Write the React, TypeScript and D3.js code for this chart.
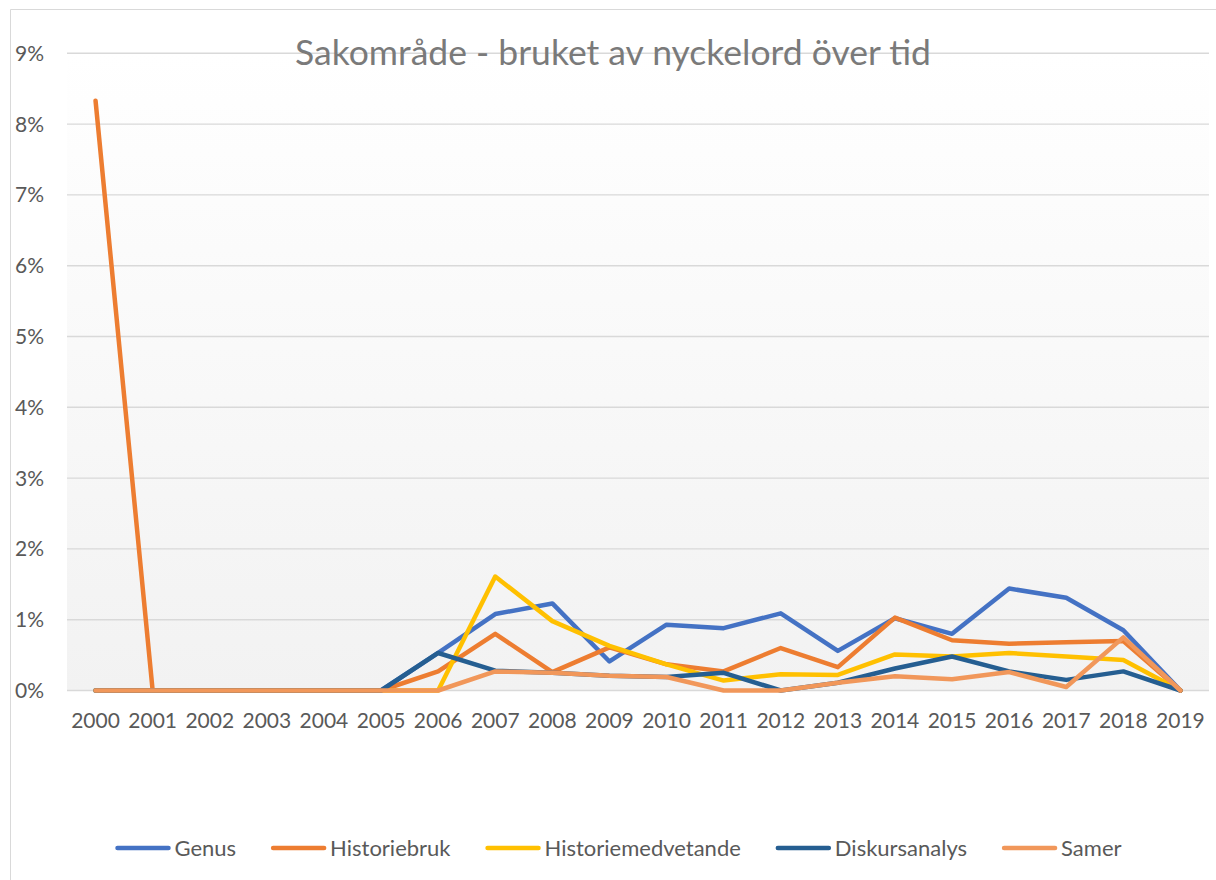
import { useEffect, useRef } from "react";
import * as d3 from "d3";

const years = [
  "2000", "2001", "2002", "2003", "2004", "2005", "2006", "2007", "2008", "2009",
  "2010", "2011", "2012", "2013", "2014", "2015", "2016", "2017", "2018", "2019",
];

// values in percent
const genus = [0, 0, 0, 0, 0, 0, 0.53, 1.08, 1.23, 0.41, 0.93, 0.88, 1.09, 0.56, 1.02, 0.8, 1.44, 1.31, 0.85, 0];
const historiebruk = [8.33, 0, 0, 0, 0, 0, 0.27, 0.8, 0.26, 0.61, 0.37, 0.27, 0.6, 0.33, 1.03, 0.71, 0.66, 0.68, 0.7, 0];
const historiemedvetande = [0, 0, 0, 0, 0, 0, 0, 1.61, 0.98, 0.63, 0.37, 0.14, 0.23, 0.22, 0.51, 0.48, 0.53, 0.48, 0.43, 0];
const diskursanalys = [0, 0, 0, 0, 0, 0, 0.53, 0.28, 0.25, 0.21, 0.19, 0.25, 0, 0.11, 0.31, 0.48, 0.27, 0.15, 0.27, 0];
const samer = [0, 0, 0, 0, 0, 0, 0, 0.27, 0.25, 0.21, 0.19, 0, 0, 0.11, 0.2, 0.16, 0.26, 0.05, 0.75, 0];

const seriesNames = ["Genus", "Historiebruk", "Historiemedvetande", "Diskursanalys", "Samer"];
const seriesValues = [genus, historiebruk, historiemedvetande, diskursanalys, samer];
const colors = ["#4472C4", "#ED7D31", "#FFC000", "#255E91", "#F1975A"];

const yTicks = [0, 1, 2, 3, 4, 5, 6, 7, 8, 9];
const title = "Sakområde - bruket av nyckelord över tid";

const width = 1216;
const height = 880;
const plotLeft = 67;
const plotRight = 1209;
const plotTop = 53.3;
const plotBottom = 690.5;
const font = "Lato, 'Open Sans', sans-serif";

const App = () => {
  const svgRef = useRef<SVGSVGElement>(null);

  useEffect(() => {
    if (!svgRef.current) return;
    const svg = d3.select(svgRef.current);

    const step = (plotRight - plotLeft) / years.length;
    const x = d3
      .scalePoint<string>()
      .domain(years)
      .range([plotLeft + step / 2, plotRight - step / 2]);
    const y = d3.scaleLinear().domain([0, 9]).range([plotBottom, plotTop]);

    const defs = svg.append("defs");
    const grad = defs
      .append("linearGradient")
      .attr("id", "plotBg")
      .attr("x1", 0)
      .attr("y1", 0)
      .attr("x2", 0)
      .attr("y2", 1);
    grad.append("stop").attr("offset", "0%").attr("stop-color", "#ffffff");
    grad.append("stop").attr("offset", "100%").attr("stop-color", "#f2f2f2");

    // chart border (left + top visible)
    svg.append("path")
      .attr("d", `M10.5,${height + 5}V9.5H${width + 5}`)
      .attr("fill", "none")
      .attr("stroke", "#d9d9d9")
      .attr("stroke-width", 1);

    svg.append("rect")
      .attr("x", plotLeft)
      .attr("y", plotTop)
      .attr("width", plotRight - plotLeft)
      .attr("height", plotBottom - plotTop)
      .attr("fill", "url(#plotBg)");

    // gridlines
    svg.append("g")
      .selectAll("line")
      .data(yTicks)
      .join("line")
      .attr("x1", plotLeft)
      .attr("x2", plotRight)
      .attr("y1", (d) => y(d))
      .attr("y2", (d) => y(d))
      .attr("stroke", "#d9d9d9")
      .attr("stroke-width", 1.4);

    // title
    svg.append("text")
      .attr("x", 613)
      .attr("y", 65)
      .attr("text-anchor", "middle")
      .attr("font-family", font)
      .attr("font-size", 35.5)
      .attr("fill", "#7a7a7a")
      .text(title);

    // y labels
    svg.append("g")
      .selectAll("text")
      .data(yTicks)
      .join("text")
      .attr("x", 44)
      .attr("y", (d) => y(d))
      .attr("dy", "0.36em")
      .attr("text-anchor", "end")
      .attr("font-family", font)
      .attr("font-size", 21)
      .attr("fill", "#595959")
      .text((d) => `${d}%`);

    // x labels
    svg.append("g")
      .selectAll("text")
      .data(years)
      .join("text")
      .attr("x", (d) => x(d) ?? 0)
      .attr("y", 728)
      .attr("text-anchor", "middle")
      .attr("font-family", font)
      .attr("font-size", 21)
      .attr("fill", "#595959")
      .text((d) => d);

    const line = d3
      .line<number>()
      .x((_, i) => x(years[i]) ?? 0)
      .y((d) => y(d));

    svg.append("g")
      .selectAll("path")
      .data(seriesValues)
      .join("path")
      .attr("d", (d) => line(d))
      .attr("fill", "none")
      .attr("stroke", (_, i) => colors[i])
      .attr("stroke-width", 4.5)
      .attr("stroke-linejoin", "round")
      .attr("stroke-linecap", "round");

    // legend
    const legend = svg.append("g");
    const lineLen = 55;
    const textGap = 4;
    const itemGap = 35;
    const items = legend
      .selectAll("g")
      .data(seriesNames)
      .join("g");
    items.append("line")
      .attr("x1", 2)
      .attr("x2", lineLen - 2)
      .attr("y1", 0)
      .attr("y2", 0)
      .attr("stroke", (_, i) => colors[i])
      .attr("stroke-width", 4.5)
      .attr("stroke-linecap", "round");
    items.append("text")
      .attr("x", lineLen + textGap)
      .attr("dy", "0.36em")
      .attr("font-family", font)
      .attr("font-size", 22)
      .attr("fill", "#595959")
      .text((d) => d);

    const widths: number[] = [];
    items.each(function () {
      const t = d3.select(this).select("text").node() as SVGTextElement;
      widths.push(lineLen + textGap + t.getComputedTextLength());
    });
    const total = d3.sum(widths) + itemGap * (widths.length - 1);
    let cx = 618.5 - total / 2;
    items.attr("transform", (_, i) => {
      const tx = cx;
      cx += widths[i] + itemGap;
      return `translate(${tx},848)`;
    });

    return () => {
      svg.selectAll("*").remove();
    };
  }, []);

  return (
    <svg
      ref={svgRef}
      width={width}
      height={height}
      style={{ position: "absolute", left: 0, top: 0, background: "#fff" }}
    />
  );
};

export default App;
